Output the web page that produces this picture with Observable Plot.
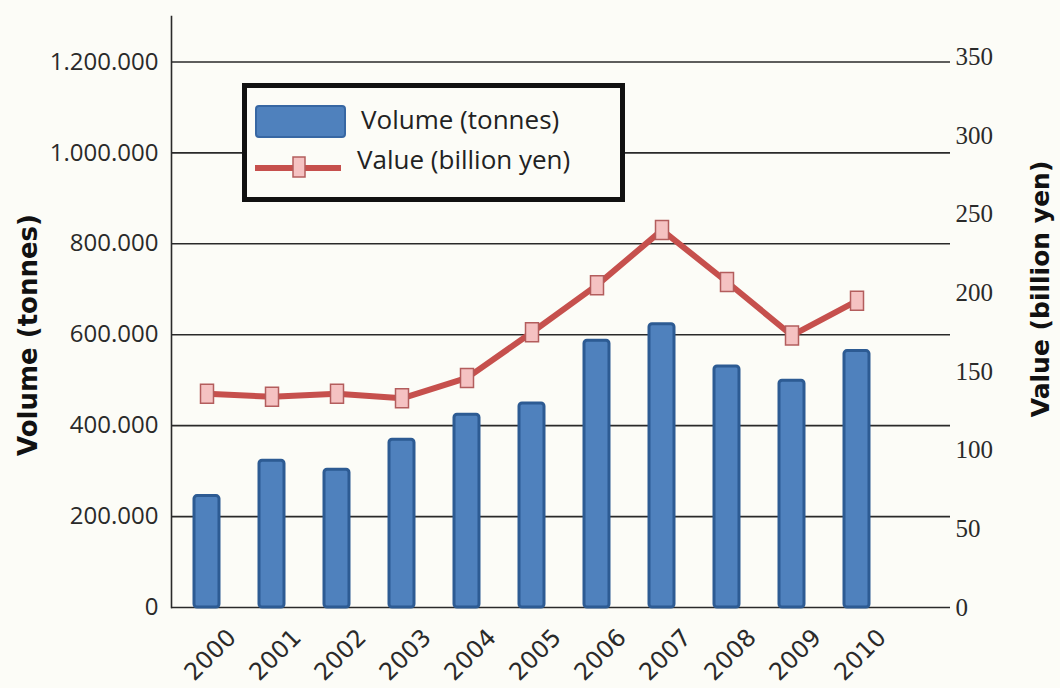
<!DOCTYPE html>
<html>
<head>
<meta charset="utf-8">
<script src="https://cdn.jsdelivr.net/npm/d3@7"></script>
<script src="https://cdn.jsdelivr.net/npm/@observablehq/plot@0.6"></script>
<style>
  html, body { margin: 0; padding: 0; background: #fcfcf7; }
  #wrap { position: relative; width: 1060px; height: 688px; overflow: hidden; }
  #legend {
    position: absolute; left: 242px; top: 83px; width: 383px; height: 119px;
    box-sizing: border-box; border: 5px solid #111; background: #fcfcf7;
    font-family: "Open Sans", sans-serif; font-size: 26px; color: #222;
  }
  #legend .lbl { position: absolute; white-space: nowrap; line-height: 1; }
</style>
</head>
<body>
<div id="wrap">
  <div id="chart"></div>
  <div id="legend">
    <svg style="position:absolute;left:8px;top:17px" width="92" height="34">
      <rect x="1" y="1" width="89" height="31" rx="3" fill="#4f81bd" stroke="#3767a3" stroke-width="2"/>
    </svg>
    <div class="lbl" style="left:114px;top:18px">Volume (tonnes)</div>
    <svg style="position:absolute;left:6px;top:64px" width="92" height="30">
      <line x1="2" y1="16" x2="88" y2="16" stroke="#c6504d" stroke-width="6"/>
      <rect x="40" y="5" width="12" height="20" fill="#f5c2c2" stroke="#b35d5d" stroke-width="1.5"/>
    </svg>
    <div class="lbl" style="left:110px;top:58px">Value (billion yen)</div>
  </div>
</div>
<script>
// ---- data ----
const years = ["2000","2001","2002","2003","2004","2005","2006","2007","2008","2009","2010"];
const volumeTonnes = [245000, 323000, 303000, 369000, 424000, 449000, 587000, 623000, 530000, 499000, 564000];
const valueBillionYen = [136, 134, 136, 133, 146, 175, 205, 240, 207, 173, 195];
const leftTicks = [0, 200000, 400000, 600000, 800000, 1000000, 1200000];
const rightTicks = [0, 50, 100, 150, 200, 250, 300, 350];

// secondary-axis conversion (tonnes per billion yen on the shared y scale)
const K = 3459;

const data = years.map((year, i) => ({year, volume: volumeTonnes[i], value: valueBillionYen[i]}));

const rectSymbol = {
  draw(context, size) {
    context.rect(-6.5, -9.5, 13, 19);
  }
};

const chart = Plot.plot({
  width: 1060,
  height: 688,
  marginLeft: 171,
  marginRight: 110,
  marginTop: 16,
  marginBottom: 81,
  style: {background: "#fcfcf7", overflow: "visible"},
  x: {domain: years, range: [172.4, 889.6], paddingInner: 0.617, paddingOuter: 0.3085, axis: null},
  y: {domain: [0, 1300000], axis: null},
  marks: [
    Plot.ruleY(leftTicks, {stroke: "#2a2a2a", strokeWidth: 1.6}),
    Plot.frame({anchor: "left", stroke: "#2a2a2a", strokeWidth: 1.6}),
    Plot.barY(data, {x: "year", y: "volume", fill: "#4f81bd", stroke: "#2d5b93", strokeWidth: 3, rx: 3}),
    Plot.line(data, {x: "year", y: d => d.value * K, stroke: "#c6504d", strokeWidth: 6}),
    Plot.dot(data, {x: "year", y: d => d.value * K, symbol: rectSymbol, r: 6, fill: "#f5c2c2", stroke: "#b35d5d", strokeWidth: 1.5}),
    Plot.axisY(leftTicks, {
      anchor: "left", tickSize: 0, tickPadding: 13, label: null,
      tickFormat: d => d3.format(",")(d).replace(/,/g, "."),
      fontSize: 24, fontFamily: "Open Sans", fill: "#2a2a2a"
    }),
    Plot.axisY(rightTicks.map(v => v * K), {
      anchor: "right", tickSize: 0, tickPadding: 5, label: null,
      tickFormat: d => String(Math.round(d / K)),
      fontSize: 25, fontFamily: "Liberation Serif", fill: "#2a2a2a"
    }),
    Plot.axisX({
      tickSize: 0, tickRotate: -45, tickPadding: 26, dx: 25, label: null,
      fontSize: 24, fontFamily: "DejaVu Sans", fill: "#2a2a2a"
    }),
    Plot.text(["Volume (tonnes)"], {
      frameAnchor: "left", dx: -143, dy: 23, rotate: -90, textAnchor: "middle",
      fontSize: 26, fontWeight: "bold", fontFamily: "DejaVu Sans", fill: "#111"
    }),
    Plot.text(["Value (billion yen)"], {
      frameAnchor: "right", dx: 90, dy: -23, rotate: -90, textAnchor: "middle",
      fontSize: 25, fontWeight: "bold", fontFamily: "DejaVu Sans", fill: "#111"
    })
  ]
});
document.getElementById("chart").appendChild(chart);
</script>
</body>
</html>
